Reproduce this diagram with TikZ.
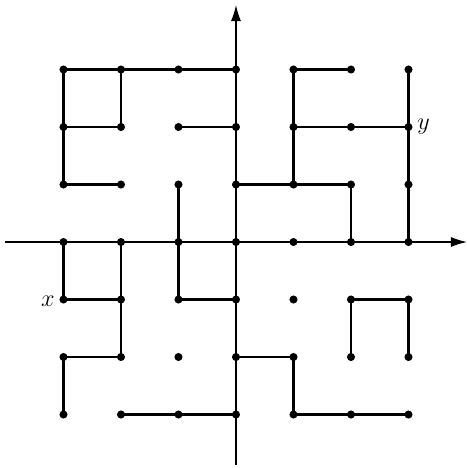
\documentclass[tikz,border=0pt]{standalone}
\usetikzlibrary{arrows.meta}
\begin{document}
\begin{tikzpicture}[x=1cm,y=1cm,
  dot/.style={circle,fill=black,inner sep=0pt,minimum size=4pt},
  edge/.style={line width=1.4pt,line cap=round},
  axis/.style={line width=0.6pt,-{Latex[length=8pt,width=5pt]}},
  lab/.style={font=\large,inner sep=1pt}]
\useasboundingbox (-4.104,-3.930) rectangle (4.017,4.209);
\coordinate (xl) at (-4.017,0);
\coordinate (xr) at (4.017,0);
\coordinate (yb) at (0,-3.878);
\coordinate (yt) at (0,4.122);
\draw[axis] (xl) -- (xr);
\draw[axis] (yb) -- (yt);
\foreach \i in {0,...,6}{
  \foreach \j in {0,...,6}{
    \node[dot] (n\i\j) at (\i-3,\j-3) {};
  }
}
\foreach \a/\b in {06/16,16/26,26/36,06/05,16/15,05/15,05/04,04/14,25/35,24/23,
  36/35,35/34,34/33,13/23,23/33,43/53,
  46/56,46/45,45/44,45/55,55/65,66/65,65/64,64/63,34/44,44/54,54/53,
  03/02,02/12,13/12,12/11,01/11,01/00,23/22,22/32,10/20,20/30,
  31/30,31/41,41/40,40/50,50/60,52/62,52/51,62/61}{
  \draw[edge] (n\a.center) -- (n\b.center);
}
\node[lab,anchor=east] (lx) at ([xshift=-1pt,yshift=-1pt]n02.west) {$x$};
\node[lab,anchor=west] (ly) at ([xshift=1pt]n65.east) {$y$};
\end{tikzpicture}
\end{document}
